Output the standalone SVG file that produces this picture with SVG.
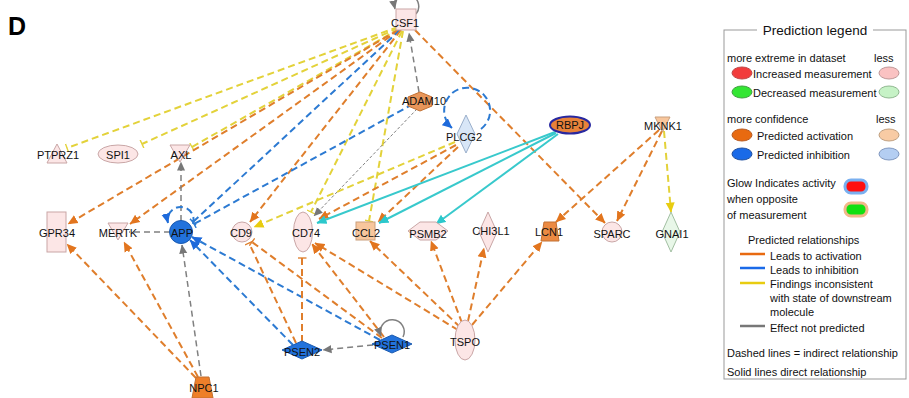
<svg xmlns="http://www.w3.org/2000/svg" width="909" height="398" viewBox="0 0 909 398">
<style>
text{font-family:"Liberation Sans",Arial,sans-serif;font-size:11px;fill:#111}
.lbl{text-anchor:middle}
.eo{stroke:#DF7E2C;stroke-width:2;stroke-dasharray:7 4;fill:none}
.eb{stroke:#2C7AD2;stroke-width:2;stroke-dasharray:7 4;fill:none}
.ey{stroke:#E3D23A;stroke-width:2;stroke-dasharray:7 4;fill:none}
.eg{stroke:#808080;stroke-width:1.5;stroke-dasharray:6 4;fill:none}
.egt{stroke:#808080;stroke-width:1;stroke-dasharray:3 2;fill:none}
.egs{stroke:#808080;stroke-width:1.5;fill:none}
.ebs{stroke:#2C7AD2;stroke-width:2;stroke-dasharray:7 4;fill:none}
.ec{stroke:#38C9CC;stroke-width:2;fill:none}
.pink{fill:#FCE6E6;stroke:#C9A6A6;stroke-width:1}
.peach{fill:#F8C69C;stroke:#C9A07E;stroke-width:1}
.orange{fill:#EC8A42;stroke:#C27032;stroke-width:1}
.blue{fill:#2272DC;stroke:#1A5AB0;stroke-width:1}
.lblue{fill:#D8E6F7;stroke:#9AAFCB;stroke-width:1}
.lgreen{fill:#E8F7E8;stroke:#A2BFA2;stroke-width:1}
</style>
<defs>
<marker id="ao" viewBox="0 0 10 10" refX="9.5" refY="5" markerWidth="10" markerHeight="10" orient="auto" markerUnits="userSpaceOnUse"><path d="M0,0.5 L10,5 L0,9.5 z" fill="#E2751E"/></marker>
<marker id="ab" viewBox="0 0 10 10" refX="9.5" refY="5" markerWidth="10" markerHeight="10" orient="auto" markerUnits="userSpaceOnUse"><path d="M0,0.5 L10,5 L0,9.5 z" fill="#1E6ADB"/></marker>
<marker id="ay" viewBox="0 0 10 10" refX="9.5" refY="5" markerWidth="10" markerHeight="10" orient="auto" markerUnits="userSpaceOnUse"><path d="M0,0.5 L10,5 L0,9.5 z" fill="#E8CC10"/></marker>
<marker id="ag" viewBox="0 0 10 10" refX="9.5" refY="5" markerWidth="9" markerHeight="9" orient="auto" markerUnits="userSpaceOnUse"><path d="M0,0.5 L10,5 L0,9.5 z" fill="#777"/></marker>
<marker id="ac" viewBox="0 0 10 10" refX="9.5" refY="5" markerWidth="10" markerHeight="10" orient="auto" markerUnits="userSpaceOnUse"><path d="M0,0.5 L10,5 L0,9.5 z" fill="#2CC8CC"/></marker>
<marker id="to" viewBox="0 0 4 10" refX="3" refY="5" markerWidth="4" markerHeight="9" orient="auto" markerUnits="userSpaceOnUse"><path d="M3,0 V10" stroke="#DF7E2C" stroke-width="1.5"/></marker>
<marker id="tb" viewBox="0 0 4 10" refX="3" refY="5" markerWidth="4" markerHeight="9" orient="auto" markerUnits="userSpaceOnUse"><path d="M3,0 V10" stroke="#2C7AD2" stroke-width="1.5"/></marker>
<marker id="ty" viewBox="0 0 4 10" refX="3" refY="5" markerWidth="4" markerHeight="9" orient="auto" markerUnits="userSpaceOnUse"><path d="M3,0 V10" stroke="#E3D23A" stroke-width="1.5"/></marker>
</defs>
<rect width="909" height="398" fill="#fff"/>
<text x="8" y="35" style="font-size:25px;font-weight:bold;fill:#000">D</text>

<g id="connectors">
<!-- CSF1 fan -->
<path class="ey" d="M398,27 L67,148" marker-end="url(#ty)"/>
<path class="ey" d="M398,28 L142,144" marker-end="url(#ty)"/>
<path class="ey" d="M399,29 L192,147" marker-end="url(#ty)"/>
<path class="eo" d="M398,30 L68,224" marker-end="url(#ao)"/>
<path class="eo" d="M399,30 L130,224" marker-end="url(#ao)"/>
<path class="eb" d="M400,30 L193,222" marker-end="url(#tb)"/>
<path class="eo" d="M401,30 L250,222" marker-end="url(#ao)"/>
<path class="ey" d="M402,31 L311,212" marker-end="url(#ty)"/>
<path class="ey" d="M403,31 L369,221" marker-end="url(#ty)"/>
<path class="eo" d="M415,30 L605,223" marker-end="url(#ao)"/>
<!-- ADAM10 -->
<path class="eg" d="M419,92 L409,33" marker-end="url(#ag)"/>
<path class="eb" d="M413,104 L194,224" marker-end="url(#tb)"/>
<path class="egt" d="M417,109 L314,216" marker-end="url(#ag)"/>
<!-- PLCG2 -->
<path class="eb" d="M481,129 A23,23 0 1 0 452,128" marker-end="url(#ab)"/>
<path class="ey" d="M455,142 L254,227" marker-end="url(#ay)"/>
<path class="eo" d="M456,145 L319,219" marker-end="url(#ao)"/>
<path class="eo" d="M458,147 L378,222" marker-end="url(#ao)"/>
<!-- RBPJ -->
<path class="ec" d="M555,132 L317,223" marker-end="url(#ac)"/>
<path class="ec" d="M556,133 L379,223" marker-end="url(#ac)"/>
<path class="ec" d="M558,134 L436,224" marker-end="url(#ac)"/>
<!-- MKNK1 -->
<path class="eo" d="M659,130 L556,222" marker-end="url(#ao)"/>
<path class="eo" d="M662,131 L617,221" marker-end="url(#ao)"/>
<path class="ey" d="M664,131 L671,212" marker-end="url(#ay)"/>
<!-- APP -->
<path class="eg" d="M181,221 L181,162" marker-end="url(#ag)"/>
<path class="eb" d="M193,224 A13,13 0 1 0 168,223" marker-end="url(#ab)"/>
<path class="eg" d="M170,232 L129,232"/>
<!-- NPC1 -->
<path class="eg" d="M201,376 L182,245" marker-end="url(#ag)"/>
<path class="eo" d="M196,378 L67,244" marker-end="url(#ao)"/>
<path class="eo" d="M198,377 L124,242" marker-end="url(#ao)"/>
<!-- PSEN2 / PSEN1 -->
<path class="eb" d="M293,345 L190,240" marker-end="url(#ab)"/>
<path class="eb" d="M380,340 L192,237" marker-end="url(#ab)"/>
<path class="eo" d="M296,343 L249,243" marker-end="url(#to)"/>
<path class="eo" d="M382,338 L252,242" marker-end="url(#to)"/>
<path class="eo" d="M302,342 L302,258" marker-end="url(#to)"/>
<path class="eo" d="M384,337 L312,244" marker-end="url(#ao)"/>
<path class="egs" d="M403,337 A12,12 0 1 0 381,336" marker-end="url(#ag)"/>
<path class="eg" d="M373,345 L323,350" marker-end="url(#ag)"/>
<!-- TSPO -->
<path class="eo" d="M458,330 L315,243" marker-end="url(#ao)"/>
<path class="eo" d="M460,327 L370,241" marker-end="url(#ao)"/>
<path class="eo" d="M462,323 L431,241" marker-end="url(#ao)"/>
<path class="eo" d="M468,321 L484,248" marker-end="url(#ao)"/>
<path class="eo" d="M472,325 L542,242" marker-end="url(#ao)"/>
<!-- CSF1 self loop -->
<path class="egs" d="M416,14 A12,12 0 1 0 395,9" marker-end="url(#ag)"/>
</g>

<g id="CSF1"><rect class="pink" x="396" y="9" width="20" height="21"/><text class="lbl" x="405" y="27">CSF1</text></g>
<g id="ADAM10"><polygon class="orange" style="fill:#E8965A" points="420,92 432,97 432,106 420,111 408,106 408,97"/><text class="lbl" x="424" y="105">ADAM10</text></g>
<g id="PLCG2"><polygon class="lblue" points="466,115 475,134 466,153 457,134"/><text class="lbl" x="464" y="141">PLCG2</text></g>
<g id="RBPJ"><ellipse cx="570" cy="125" rx="20" ry="8.5" fill="#E8823A" stroke="#2828A0" stroke-width="2"/><text class="lbl" x="570" y="129">RBPJ</text></g>
<g id="MKNK1"><polygon class="peach" points="655,117 670,117 662.5,132"/><text class="lbl" x="663" y="130">MKNK1</text></g>
<g id="PTPRZ1"><polygon class="pink" points="57,144 67,163 47,163"/><text class="lbl" x="58" y="159">PTPRZ1</text></g>
<g id="SPI1"><ellipse class="pink" cx="118" cy="154" rx="20" ry="9"/><text class="lbl" x="118" y="159">SPI1</text></g>
<g id="AXL"><polygon class="pink" points="170,145 190,145 180,162"/><text class="lbl" x="181" y="159">AXL</text></g>
<g id="GPR34"><rect class="pink" x="47" y="212" width="19" height="40"/><text class="lbl" x="57" y="237">GPR34</text></g>
<g id="MERTK"><polygon class="pink" points="108,223 128,223 118,240"/><text class="lbl" x="118" y="237">MERTK</text></g>
<g id="APP"><circle class="blue" cx="181" cy="232" r="11.5"/><text class="lbl" x="182" y="237">APP</text></g>
<g id="CD9"><circle class="pink" cx="242" cy="232" r="10"/><text class="lbl" x="241" y="237">CD9</text></g>
<g id="CD74"><ellipse class="pink" cx="303" cy="232" rx="9.5" ry="20"/><text class="lbl" x="306" y="237">CD74</text></g>
<g id="CCL2"><rect class="peach" x="356" y="222" width="19" height="18"/><text class="lbl" x="366" y="237">CCL2</text></g>
<g id="PSMB2"><polygon class="pink" points="408,231 420,222 436,222 448,231 436,240 420,240"/><text class="lbl" x="428" y="238">PSMB2</text></g>
<g id="CHI3L1"><polygon class="pink" points="488,212 497,232 488,252 479,232"/><text class="lbl" x="491" y="235">CHI3L1</text></g>
<g id="LCN1"><polygon class="orange" points="544,222 556,222 559,241 541,241"/><text class="lbl" x="549" y="236">LCN1</text></g>
<g id="SPARC"><circle class="pink" cx="612" cy="232" r="10"/><text class="lbl" x="612" y="238">SPARC</text></g>
<g id="GNAI1"><polygon class="lgreen" points="671,212 680,232 671,252 662,232"/><text class="lbl" x="672" y="238">GNAI1</text></g>
<g id="PSEN2"><polygon class="blue" points="282,350 302,341 322,350 302,359"/><text class="lbl" x="302" y="356">PSEN2</text></g>
<g id="PSEN1"><polygon class="blue" points="372,344 392,335 412,344 392,353"/><text class="lbl" x="392" y="349">PSEN1</text></g>
<g id="TSPO"><ellipse class="pink" cx="465" cy="340" rx="10" ry="20"/><text class="lbl" x="465" y="346">TSPO</text></g>
<g id="NPC1"><polygon class="orange" style="fill:#EE7F2A" points="196,377 209,377 213,398 192,398"/><text class="lbl" x="204" y="392">NPC1</text></g>

<g id="legend">
<rect x="724" y="30" width="182" height="349" fill="#fff" stroke="#999" stroke-width="1"/>
<rect x="757" y="22" width="116" height="16" fill="#fff"/>
<text x="815" y="35" style="font-size:13.5px;text-anchor:middle">Prediction legend</text>
<text x="727" y="62">more extreme in dataset</text><text x="874" y="62">less</text>
<ellipse cx="742" cy="73" rx="10" ry="6" fill="#F23C3C" stroke="#C04848"/>
<text x="753" y="78">Increased measurement</text>
<ellipse cx="889" cy="73" rx="10" ry="6" fill="#FAC2C2" stroke="#C09898"/>
<ellipse cx="742" cy="92" rx="10" ry="6" fill="#33E633" stroke="#40A040"/>
<text x="753" y="97">Decreased measurement</text>
<ellipse cx="889" cy="92" rx="10" ry="6" fill="#C6F2C6" stroke="#90B890"/>
<text x="727" y="123">more confidence</text><text x="876" y="123">less</text>
<ellipse cx="742" cy="135" rx="10" ry="6" fill="#E86A10" stroke="#B85A20"/>
<text x="757" y="140">Predicted activation</text>
<ellipse cx="889" cy="135" rx="10" ry="6" fill="#F8CBA4" stroke="#C0A080"/>
<ellipse cx="742" cy="154" rx="10" ry="6" fill="#1A6AE8" stroke="#2050A0"/>
<text x="757" y="159">Predicted inhibition</text>
<ellipse cx="889" cy="154" rx="10" ry="6" fill="#B4CEF2" stroke="#8098C0"/>
<text x="727" y="187">Glow Indicates activity</text>
<rect x="845" y="180" width="22" height="13" rx="6" fill="#FF1010" stroke="#7AB0F0" stroke-width="3"/>
<text x="727" y="203">when opposite</text>
<text x="727" y="219">of measurement</text>
<rect x="845" y="203" width="22" height="13" rx="6" fill="#11E011" stroke="#F2B88A" stroke-width="3"/>
<text x="748" y="244">Predicted relationships</text>
<line x1="740" y1="254" x2="765" y2="254" stroke="#E86A10" stroke-width="2.5"/>
<text x="770" y="260">Leads to activation</text>
<line x1="740" y1="268" x2="765" y2="268" stroke="#1A6AE8" stroke-width="2.5"/>
<text x="770" y="274">Leads to inhibition</text>
<line x1="740" y1="283" x2="765" y2="283" stroke="#E8CC10" stroke-width="2.5"/>
<text x="770" y="288">Findings inconsistent</text>
<text x="770" y="302">with state of downstream</text>
<text x="770" y="316">molecule</text>
<line x1="740" y1="326" x2="765" y2="326" stroke="#777" stroke-width="2.5"/>
<text x="770" y="332">Effect not predicted</text>
<text x="727" y="357">Dashed lines = indirect relationship</text>
<text x="727" y="376">Solid lines direct relationship</text>
</g>
</svg>
